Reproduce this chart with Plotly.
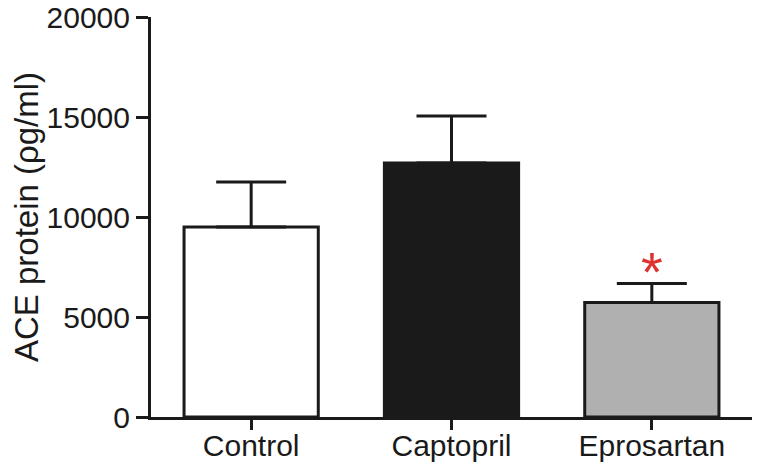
import plotly.graph_objects as go

categories = ["Control", "Captopril", "Eprosartan"]
means = [9500, 12700, 5730]
sem_upper = [2250, 2350, 950]
bar_colors = ["#ffffff", "#1a1a1a", "#b0b0b0"]
y_ticks = [0, 5000, 10000, 15000, 20000]
sig_marks = ["", "", "*"]

ink = "#1a1a1a"
font_family = "Liberation Sans, Arial, sans-serif"

fig = go.Figure()
fig.add_trace(go.Bar(
    x=categories, y=means, width=0.67,
    marker=dict(color=bar_colors, line=dict(color=ink, width=3)),
    error_y=dict(type="data", array=sem_upper, arrayminus=[0]*len(means),
                 symmetric=False, color=ink, thickness=3, width=35),
    showlegend=False,
))

for c, m, e, s in zip(categories, means, sem_upper, sig_marks):
    if s:
        fig.add_annotation(x=c, y=m + e, text=s, showarrow=False,
                           yanchor="bottom", yshift=-22,
                           font=dict(size=56, color="#e03030", family=font_family))

# page body adds an 8px offset; size the figure to fit the 760x470 window
fig.update_layout(
    width=752, height=462,
    margin=dict(l=143, r=8, t=9, b=53),
    paper_bgcolor="white", plot_bgcolor="white",
    font=dict(family=font_family, color=ink, size=30),
    bargap=0.33,
)
fig.update_xaxes(
    range=[-0.5, 2.5], showline=True, linecolor=ink, linewidth=3,
    ticks="outside", ticklen=10, tickwidth=3, tickcolor=ink,
    tickfont=dict(size=30), showgrid=False, zeroline=False, automargin=False,
    ticklabelstandoff=-10,
)
fig.update_yaxes(
    range=[0, 20000], tickvals=y_ticks, ticktext=[str(v) for v in y_ticks],
    showline=True, linecolor=ink, linewidth=3,
    ticks="outside", ticklen=12, tickwidth=3, tickcolor=ink,
    tickfont=dict(size=30), showgrid=False, zeroline=False, automargin=False,
    ticklabeloverflow="allow",
    title=dict(text="ACE protein (ρg/ml)", font=dict(size=33), standoff=10),
)

fig.write_html("out.html")
